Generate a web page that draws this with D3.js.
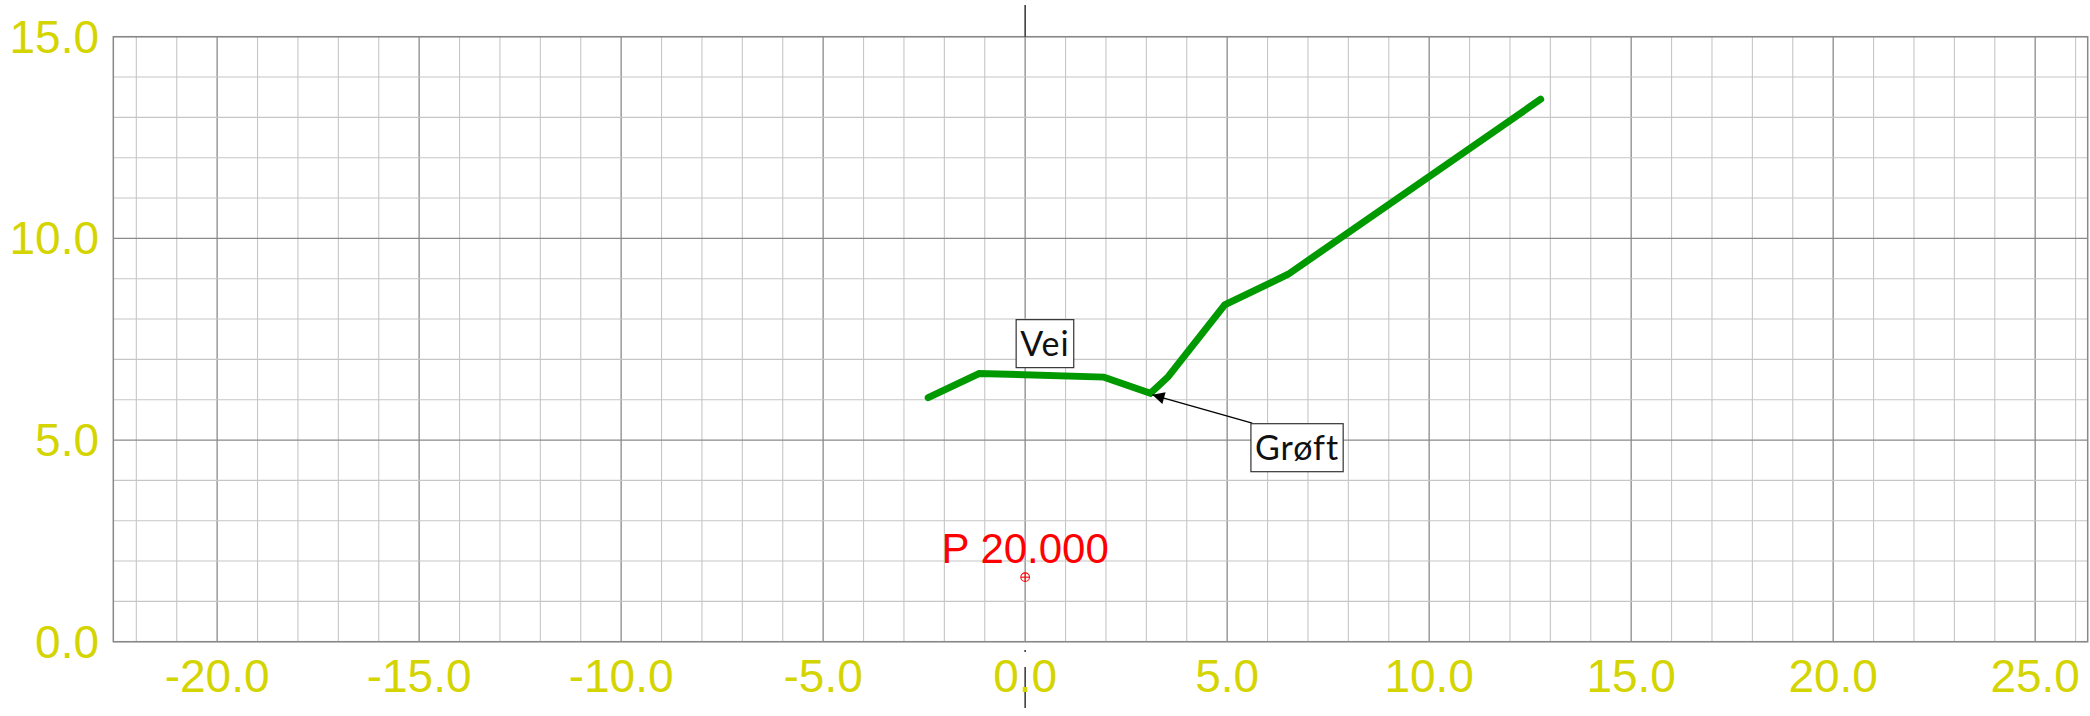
<!DOCTYPE html>
<html>
<head>
<meta charset="utf-8">
<script src="https://cdn.jsdelivr.net/npm/d3@7"></script>
<style>
  body { margin: 0; background: #fff; }
</style>
</head>
<body>
<svg id="chart" width="2090" height="716"></svg>
<script>
// cross section (offset m, height m)
var sectionX = [-2.40, -1.14, 1.95, 3.10, 3.54, 4.94, 6.51, 12.76];
var sectionY = [6.05, 6.65, 6.56, 6.16, 6.57, 8.35, 9.11, 13.45];

var xTicks = [-20, -15, -10, -5, 0, 5, 10, 15, 20, 25];
var yTicks = [0, 5, 10, 15];

// text boxes
var noteNames = ['Vei', 'Grøft'];
var noteX = [0.49, 6.73];
var noteY = [7.39, 4.81];
// arrow from Grøft box corner to ditch bottom
var arrowFrom = [5.62, 5.42];
var arrowTo = [3.15, 6.12];

var profileName = 'P 20.000';
var profilePoint = [0, 1.6];

var labelFont = '"Liberation Sans", Arial, sans-serif';
var noteFont = 'Lato, "Open Sans", sans-serif';

var svg = d3.select('#chart');
var x = d3.scaleLinear().domain([-22.57, 26.3]).range([113.3, 2087.7]);
var y = d3.scaleLinear().domain([0, 15]).range([641.7, 36.7]);

svg.append('defs').append('marker')
    .attr('id', 'arrowhead')
    .attr('viewBox', '0 0 10 10')
    .attr('refX', 10).attr('refY', 5)
    .attr('markerWidth', 14).attr('markerHeight', 12)
    .attr('markerUnits', 'userSpaceOnUse')
    .attr('orient', 'auto')
    .append('path').attr('d', 'M0,0 L10,5 L0,10 z').attr('fill', '#000');

// grid
var xMinor = d3.range(-22, 27, 1);
var yMinor = d3.range(0, 16, 1);
var grid = svg.append('g');
grid.selectAll('.vx')
    .data(xMinor)
    .enter()
    .append('line')
    .attr('x1', d => x(d)).attr('x2', d => x(d))
    .attr('y1', y(15)).attr('y2', y(0))
    .attr('stroke', d => d % 5 == 0 ? '#8a8a8a' : '#c6c6c6')
    .attr('stroke-width', d => d % 5 == 0 ? 1.3 : 1.1);
grid.selectAll('.hy')
    .data(yMinor)
    .enter()
    .append('line')
    .attr('x1', x.range()[0]).attr('x2', x.range()[1])
    .attr('y1', d => y(d)).attr('y2', d => y(d))
    .attr('stroke', d => d % 5 == 0 ? '#8a8a8a' : '#c6c6c6')
    .attr('stroke-width', d => d % 5 == 0 ? 1.3 : 1.1);
grid.append('rect')
    .attr('x', x.range()[0]).attr('y', y(15))
    .attr('width', x.range()[1] - x.range()[0])
    .attr('height', y(0) - y(15))
    .attr('fill', 'none')
    .attr('stroke', '#888')
    .attr('stroke-width', 1.5);

// centre line above and below the plot
var cx = x(0);
svg.append('line').attr('x1', cx).attr('x2', cx).attr('y1', 5).attr('y2', y(15))
    .attr('stroke', '#333').attr('stroke-width', 1.5);
svg.append('line').attr('x1', cx).attr('x2', cx).attr('y1', 650).attr('y2', 652)
    .attr('stroke', '#333').attr('stroke-width', 1.5);
svg.append('line').attr('x1', cx).attr('x2', cx).attr('y1', 667).attr('y2', 708)
    .attr('stroke', '#333').attr('stroke-width', 1.5);

// tick labels
svg.selectAll('.xl')
    .data(xTicks)
    .enter()
    .append('text')
    .attr('x', d => x(d))
    .attr('y', 692)
    .attr('text-anchor', 'middle')
    .style('font-family', labelFont)
    .style('font-size', '46px')
    .style('fill', '#d4d400')
    .text(d => d3.format('.1f')(d).replace('−', '-'));
svg.selectAll('.yl')
    .data(yTicks)
    .enter()
    .append('text')
    .attr('x', 99)
    .attr('y', d => y(d) + 16)
    .attr('text-anchor', 'end')
    .style('font-family', labelFont)
    .style('font-size', '46px')
    .style('fill', '#d4d400')
    .text(d => d3.format('.1f')(d));

// terrain line
var line = d3.line().x(d => x(d[0])).y(d => y(d[1]));
svg.append('path')
    .datum(d3.zip(sectionX, sectionY))
    .attr('d', line)
    .attr('fill', 'none')
    .attr('stroke', '#009a00')
    .attr('stroke-width', 7)
    .attr('stroke-linecap', 'round')
    .attr('stroke-linejoin', 'miter');

// arrow
svg.append('line')
    .attr('x1', x(arrowFrom[0])).attr('y1', y(arrowFrom[1]))
    .attr('x2', x(arrowTo[0])).attr('y2', y(arrowTo[1]))
    .attr('stroke', '#000')
    .attr('stroke-width', 1.3)
    .attr('marker-end', 'url(#arrowhead)');

// notes with boxes
noteNames.forEach(function (name, i) {
    var g = svg.append('g');
    var t = g.append('text')
        .attr('x', x(noteX[i]))
        .attr('y', y(noteY[i]) + 12)
        .attr('text-anchor', 'middle')
        .style('font-family', noteFont)
        .style('font-size', '34px')
        .style('letter-spacing', '1px')
        .style('fill', '#111')
        .text(name);
    var bb = t.node().getBBox();
    var h = 48;
    g.insert('rect', 'text')
        .attr('x', bb.x - 4)
        .attr('y', y(noteY[i]) - h / 2)
        .attr('width', bb.width + 8)
        .attr('height', h)
        .attr('fill', '#fff')
        .attr('stroke', '#333')
        .attr('stroke-width', 1.2);
});

// profile marker
var px = x(profilePoint[0]), py = y(profilePoint[1]);
svg.append('text')
    .attr('x', px)
    .attr('y', py - 14)
    .attr('text-anchor', 'middle')
    .style('font-family', labelFont)
    .style('font-size', '42px')
    .style('fill', '#ff0000')
    .text(profileName);
svg.append('circle').attr('cx', px).attr('cy', py).attr('r', 4.3)
    .attr('fill', 'none').attr('stroke', '#ff0000').attr('stroke-width', 1.1);
svg.append('line').attr('x1', px - 4.3).attr('x2', px + 4.3).attr('y1', py).attr('y2', py)
    .attr('stroke', '#ff0000').attr('stroke-width', 1.1);
svg.append('line').attr('x1', px).attr('x2', px).attr('y1', py - 4.3).attr('y2', py + 4.3)
    .attr('stroke', '#ff0000').attr('stroke-width', 1.1);
</script>
</body>
</html>
